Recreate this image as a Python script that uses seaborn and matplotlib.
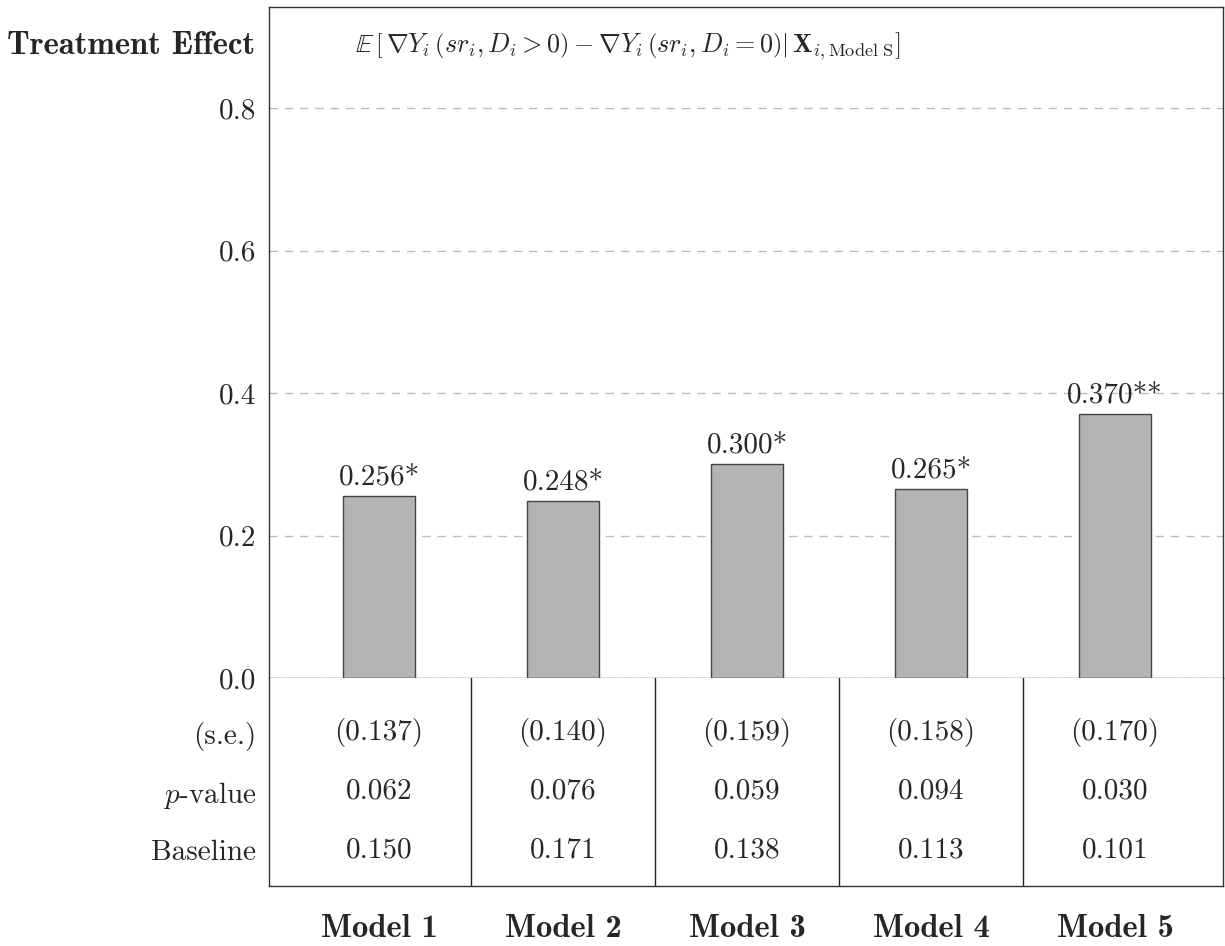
import matplotlib
matplotlib.use("Agg")
import matplotlib.pyplot as plt
import seaborn as sns
import pandas as pd

models = ["Model 1", "Model 2", "Model 3", "Model 4", "Model 5"]
effects = [0.256, 0.248, 0.300, 0.265, 0.370]
stars = ["*", "*", "*", "*", "**"]
se = [0.137, 0.140, 0.159, 0.158, 0.170]
pvals = [0.062, 0.076, 0.059, 0.094, 0.030]
baseline = [0.150, 0.171, 0.138, 0.113, 0.101]
row_labels = ["(s.e.)", r"$p$-value", "Baseline"]
yticks = [0.0, 0.2, 0.4, 0.6, 0.8]

sns.set_style("white")
plt.rcParams["font.family"] = ["cmr10", "DejaVu Serif"]
plt.rcParams["mathtext.fontset"] = "cm"
plt.rcParams["axes.formatter.use_mathtext"] = True

FS = 21
FSB = 23.5
W, H = 1225, 946
fig = plt.figure(figsize=(W / 100, H / 100), dpi=100)

L, R = 269, 1223
TOP, ZERO, TBOT = 7, 678, 886
ax = fig.add_axes([L / W, (H - ZERO) / H, (R - L) / W, (ZERO - TOP) / H])
tax = fig.add_axes([L / W, (H - TBOT) / H, (R - L) / W, (TBOT - ZERO) / H])

df = pd.DataFrame({"model": models, "effect": effects})
sns.barplot(data=df, x="model", y="effect", ax=ax, color="#b3b3b3",
            edgecolor="#444444", linewidth=1.0, width=0.39, saturation=1)
xl = (-0.598, 4.587)
ax.set_xlim(*xl)
ax.set_ylim(0, 0.942)
ax.set_yticks(yticks)
ax.set_yticklabels([f"{v:.1f}" for v in yticks], fontsize=FS)
ax.set_xticks([])
ax.set_xlabel("")
ax.set_ylabel("")
ax.yaxis.grid(True, linestyle=(0, (6, 5)), color="#bdbdbd", linewidth=1.0)
ax.set_axisbelow(True)
ax.tick_params(axis="y", length=0, pad=9)
for s in ax.spines.values():
    s.set_color("#333333")
    s.set_linewidth(1.0)
ax.spines["bottom"].set_color("#666666")

labels = [f"{v:.3f}{s}" for v, s in zip(effects, stars)]
ax.bar_label(ax.containers[0], labels=labels, padding=4, fontsize=FS)

ax.text(0.376, 0.942,
        r"$\mathbb{E}\,\left[\,\nabla Y_i\,\left(sr_i, D_i > 0\right) - \nabla Y_i\,\left(sr_i, D_i = 0\right)\right|\,\mathbf{X}_{i,\mathrm{Model\ S}}]$",
        transform=ax.transAxes, ha="center", va="center", fontsize=18.8)
fig.text(255 / W, 1 - 46 / H, "Treatment Effect", ha="right", va="center",
         fontsize=FSB, family="cmb10")

# table
tax.set_xlim(*xl)
tax.set_ylim(2.615, -0.94)
for i in range(len(models)):
    tax.text(i, 0, f"({se[i]:.3f})", ha="center", va="center", fontsize=FS)
    tax.text(i, 1, f"{pvals[i]:.3f}", ha="center", va="center", fontsize=FS)
    tax.text(i, 2, f"{baseline[i]:.3f}", ha="center", va="center", fontsize=FS)
for k in range(len(models) - 1):
    tax.axvline(k + 0.5, color="#222222", linewidth=1.0)
tax.set_yticks([0, 1, 2])
tax.set_yticklabels(row_labels, fontsize=FS)
tax.tick_params(axis="y", length=0, pad=9)
tax.set_xticks(range(len(models)))
tax.set_xticklabels(models, fontsize=FSB, family="cmb10")
tax.tick_params(axis="x", length=0, pad=20)
tax.spines["top"].set_visible(False)
for sp in ["left", "right", "bottom"]:
    tax.spines[sp].set_color("#333333")
    tax.spines[sp].set_linewidth(1.0)

fig.savefig("out.png", dpi=100)
